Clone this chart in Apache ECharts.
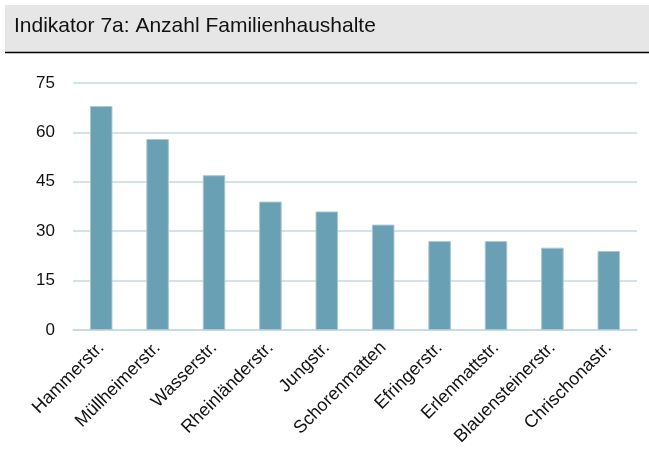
<!DOCTYPE html>
<html>
<head>
<meta charset="utf-8">
<script src="https://cdn.jsdelivr.net/npm/echarts@6/dist/echarts.min.js"></script>
<style>
  html, body { margin: 0; padding: 0; background: #fff; }
  #chart { width: 649px; height: 455px; }
</style>
</head>
<body>
<div id="chart"></div>
<script>
// Daten
var strassen = ['Hammerstr.', 'Müllheimerstr.', 'Wasserstr.', 'Rheinländerstr.', 'Jungstr.',
  'Schorenmatten', 'Efringerstr.', 'Erlenmattstr.', 'Blauensteinerstr.', 'Chrischonastr.'];
var familienhaushalte = [68, 58, 47, 39, 36, 32, 27, 27, 25, 24];
var yTicks = [0, 15, 30, 45, 60, 75];

var chart = echarts.init(document.getElementById('chart'));
var fontFamily = '"Liberation Sans", Arial, sans-serif';

var option = {
  animation: false,
  textStyle: { fontFamily: fontFamily },
  graphic: [
    // Titelbalken
    { type: 'rect', shape: { x: 5, y: 5, width: 644, height: 47 }, style: { fill: '#e6e6e6' }, z: -1 },
    { type: 'line', shape: { x1: 5, y1: 52.5, x2: 649, y2: 52.5 }, style: { stroke: '#000', lineWidth: 1.5 } }
  ],
  title: {
    text: 'Indikator 7a: Anzahl Familienhaushalte',
    left: 9,
    top: 11,
    textStyle: { fontFamily: fontFamily, fontSize: 21, fontWeight: 'normal', color: '#111' }
  },
  grid: { left: 73, right: 12, top: 83, bottom: 125 },
  xAxis: {
    type: 'category',
    data: strassen,
    axisLine: { lineStyle: { color: '#c5dae1', width: 1.5 } },
    axisTick: { show: false },
    axisLabel: { rotate: 45, interval: 0, fontSize: 18, color: '#111', margin: 15 }
  },
  yAxis: {
    type: 'value',
    min: yTicks[0],
    max: yTicks[yTicks.length - 1],
    interval: 15,
    axisLine: { show: false },
    axisTick: { show: false },
    axisLabel: { fontSize: 17, color: '#111', margin: 18 },
    splitLine: { lineStyle: { color: '#c5dae1', width: 1.5 } }
  },
  series: [{
    type: 'bar',
    data: familienhaushalte,
    barWidth: '40%',
    itemStyle: { color: '#6aa0b3', borderColor: '#a9c9d4', borderWidth: 1 }
  }]
};
chart.setOption(option);
</script>
</body>
</html>
